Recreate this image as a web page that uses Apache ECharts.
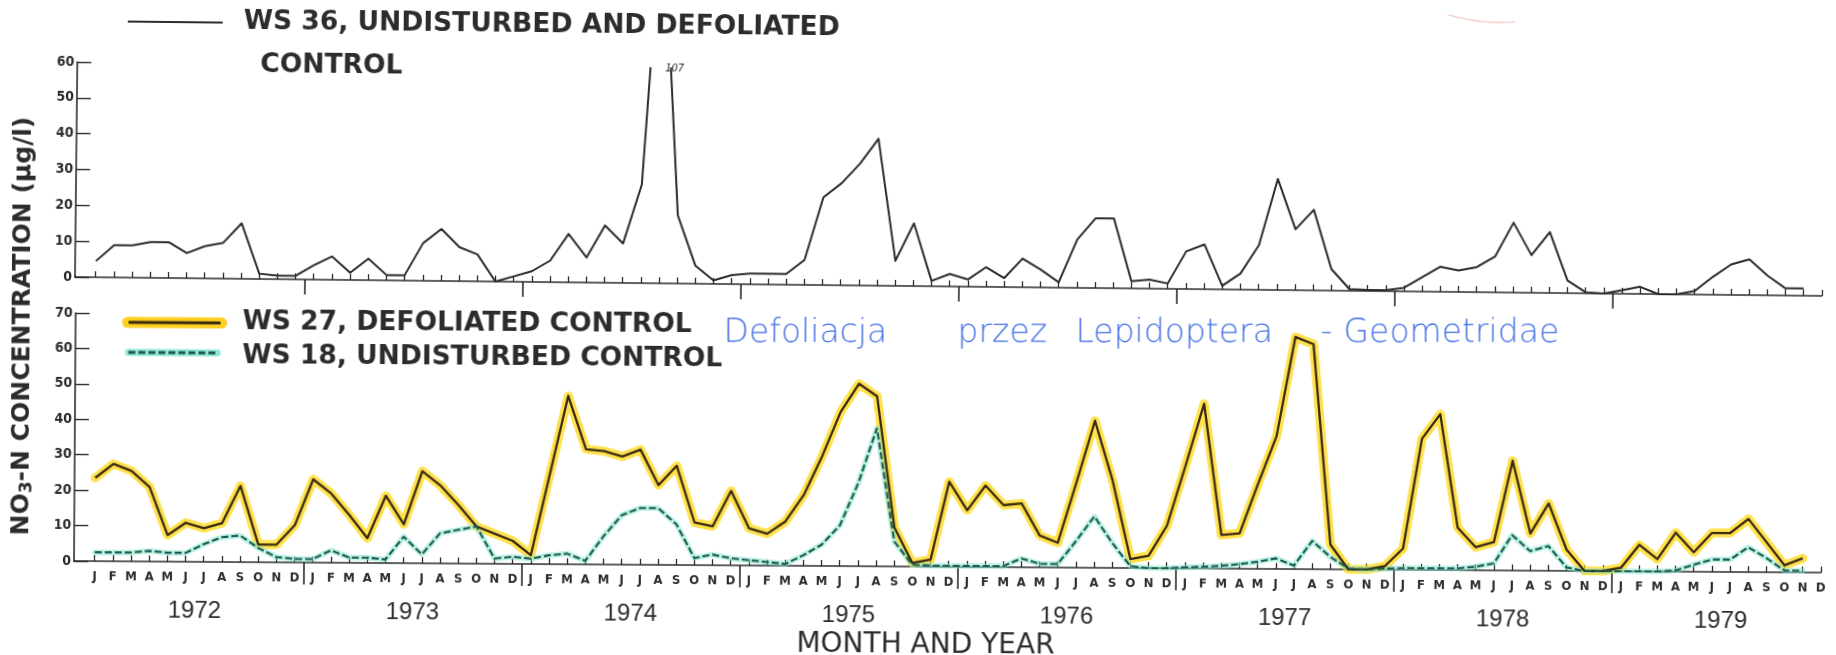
<!DOCTYPE html>
<html>
<head>
<meta charset="utf-8">
<title>NO3-N concentration, WS 36 / WS 27 / WS 18, 1972-1979</title>
<script src="https://cdn.jsdelivr.net/npm/echarts@6/dist/echarts.min.js"></script>
<style>
  html, body { margin: 0; padding: 0; background: #ffffff; }
  #page { position: relative; width: 1836px; height: 655px; overflow: hidden; background: #ffffff; }
  .panel { position: absolute; left: 0; top: 0; width: 1836px; height: 655px; }
  /* the printed sheet sits slightly skewed: each panel is turned about the foot of its y axis */
  #upper { transform: rotate(0.62deg); transform-origin: 75px 277px; }
  #lower { transform: rotate(0.38deg); transform-origin: 74px 561px; }
</style>
</head>
<body>
<div id="page">
  <div id="upper" class="panel"></div>
  <div id="lower" class="panel"></div>
</div>
<script>
// ---------------------------------------------------------------- data
const years = [1972, 1973, 1974, 1975, 1976, 1977, 1978, 1979];
const monthLetters = ['J', 'F', 'M', 'A', 'M', 'J', 'J', 'A', 'S', 'O', 'N', 'D'];

// NO3-N (µg/l), monthly Jan 1972 - Dec 1979 (no value plotted for Dec 1979)
const ws36 = [
  4.5, 9, 9, 10, 10, 7, 9, 10, 15.5, 1.5, 1, 1,
  4, 6.5, 2, 6, 1.5, 1.5, 10.5, 14.5, 9.5, 7.5, 0, 1.5,
  3, 6, 13.5, 7, 16, 11, 27.5, 107, 19, 5, 1, 2.5,
  3, 3, 3, 7, 24.5, 28.5, 34, 41, 7, 17.5, 1.5, 3.5,
  2, 5.5, 2.5, 8, 5, 1.5, 13.5, 19.5, 19.5, 2, 2.5, 1.5,
  10.5, 12.5, 1, 4.5, 12.5, 31, 17, 22.5, 6, 0.5, 0.3, 0.3,
  1, 4, 7, 6, 7, 10, 19.5, 10.5, 17, 3.5, 0.3, 0,
  1, 2, 0, 0, 1, 5, 8.5, 10, 5.5, 2, 2, null
];
const ws27 = [
  23.5, 27.5, 25.5, 21, 7.5, 11, 9.5, 11, 21.5, 5, 5, 10.5,
  23.5, 19.5, 13.5, 7, 19, 11, 26, 22, 16.5, 10.5, 8.5, 6.5,
  2.5, 25, 47.5, 32.5, 32, 30.5, 32.5, 22.5, 28, 12, 11, 21,
  10.5, 9, 12.5, 20, 31, 43.5, 51.5, 48, 11, 1, 2, 24,
  16, 23, 17.5, 18, 9, 7, 24, 41.5, 24.5, 2.5, 3.5, 12,
  29, 46.5, 9.5, 10, 24, 37.5, 65.5, 63.5, 7, 0, 0, 1,
  6, 37, 44, 12, 6.5, 8, 31, 10.5, 19, 6, 0, 0,
  1, 7.5, 3.5, 11, 5.5, 11, 11, 15, 8.5, 2, 4, null
];
const ws18 = [
  2.5, 2.5, 2.5, 3, 2.5, 2.5, 5, 7, 7.5, 4, 1.5, 1,
  1, 3.5, 1.5, 1.5, 1, 7.5, 2.5, 8.5, 9.5, 10.5, 1.5, 2,
  1.5, 2.5, 3, 1, 8, 14, 16, 16, 11.5, 2, 3, 2,
  1.5, 1, 0.5, 3, 6, 11.5, 23.5, 39, 7, 0.5, 0.3, 0.3,
  0.3, 0.3, 0.3, 2.5, 1, 1, 7.5, 14.5, 7, 0.5, 0, 0,
  0.3, 0.5, 0.8, 1.3, 2, 3, 1, 8, 3.5, 0.3, 0, 0.3,
  0.5, 0.5, 0.5, 0.5, 1, 2, 10, 5.5, 7, 1, 0, 0,
  0, 0, 0, 0.3, 2, 3.5, 3.5, 7, 4, 0.5, 0.5, null
];

const upperTicks = [0, 10, 20, 30, 40, 50, 60];
const lowerTicks = [0, 10, 20, 30, 40, 50, 60, 70];

// ---------------------------------------------------------------- styling / layout
const INK = '#2c2c2c';
const NARROW = "'Liberation Sans Narrow', 'DejaVu Sans Condensed', 'Liberation Sans', sans-serif";
const MONTH_PX = 18.17;      // horizontal room per month
const FIRST_GAP = 20.7;      // y axis to first month
const LAST = ws27.length - 1;

const monthIdx = ws27.map((_, i) => i);
const yearEdges = years.slice(1).map((_, k) => 12 * (k + 1) - 0.5);
const yearMids = years.map((_, k) => 12 * k + 5.5);
const pts = arr => arr.map((v, i) => [i, v]);

function xRange(left) {
  const min = -FIRST_GAP / MONTH_PX;
  return { left, min, max: LAST, width: (LAST - min) * MONTH_PX };
}
function helperX(r, extra) {
  return Object.assign({
    type: 'value', gridIndex: 0, position: 'bottom', offset: 0, min: r.min, max: r.max,
    splitLine: { show: false }, axisPointer: { show: false }
  }, extra);
}
function yAxisFor(ticks) {
  return {
    type: 'value', position: 'left', min: ticks[0], max: ticks[ticks.length - 1], interval: ticks[1] - ticks[0],
    axisLine: { show: true, onZero: false, lineStyle: { color: INK, width: 1.6 } },
    axisTick: { show: true, inside: true, length: 14, lineStyle: { color: INK, width: 1.4 } },
    axisLabel: { color: INK, fontFamily: NARROW, fontWeight: 'bold', fontSize: 14, margin: 3 },
    splitLine: { show: false }
  };
}
const legendFont = 'bold 26.5px "DejaVu Sans"';
const textBox = { align: 'left', verticalAlign: 'middle', textAlign: 'left', textVerticalAlign: 'middle' };

// ---------------------------------------------------------------- upper panel: WS 36
const upper = echarts.init(document.getElementById('upper'), null, { renderer: 'canvas', width: 1836, height: 655 });
const up = xRange(75);
const upperMax = upperTicks[upperTicks.length - 1];
const peakIdx = ws36.indexOf(Math.max(...ws36.filter(v => v != null)));

upper.setOption({
  animation: false,
  grid: { left: up.left, top: 62, width: up.width, height: 215, containLabel: false, outerBoundsMode: 'none' },
  xAxis: [
    helperX(up, {
      axisLine: { show: true, onZero: false, lineStyle: { color: INK, width: 1.6 } },
      axisTick: { show: true, inside: true, length: 6, customValues: monthIdx, lineStyle: { color: INK, width: 1.3 } },
      axisLabel: { show: false }
    }),
    helperX(up, {
      axisLine: { show: false, onZero: false },
      axisTick: { show: true, inside: false, length: 15, customValues: yearEdges, lineStyle: { color: INK, width: 1.6 } },
      axisLabel: { show: false }
    })
  ],
  yAxis: yAxisFor(upperTicks),
  series: [{
    name: 'WS 36, UNDISTURBED AND DEFOLIATED CONTROL',
    type: 'line', xAxisIndex: 0, data: pts(ws36),
    symbol: 'none', clip: true, z: 3,
    lineStyle: { color: INK, width: 2, join: 'round' },
    markPoint: {
      silent: true, symbol: 'circle', symbolSize: 0,
      data: [{ coord: [peakIdx, upperMax], value: ws36[peakIdx] }],
      label: {
        show: true, position: 'right', distance: 4, formatter: p => String(p.value),
        color: INK, fontFamily: NARROW, fontStyle: 'italic', fontSize: 11
      }
    }
  }],
  graphic: [
    { type: 'line', shape: { x1: 125, y1: 21, x2: 220, y2: 21 }, style: { stroke: INK, lineWidth: 2 } },
    { type: 'text', x: 241, y: 20,
      style: Object.assign({ text: 'WS 36, UNDISTURBED AND DEFOLIATED', font: legendFont, fill: INK }, textBox) },
    { type: 'text', x: 258, y: 63,
      style: Object.assign({ text: 'CONTROL', font: legendFont, fill: INK }, textBox) },
    { type: 'arc', silent: true,
      shape: { cx: 1497, cy: -184, r: 191, startAngle: 1.49, endAngle: 2.06, clockwise: true },
      style: { stroke: 'rgba(236,140,140,0.45)', fill: 'none', lineWidth: 1.4 } }
  ]
});

// ---------------------------------------------------------------- lower panel: WS 27 and WS 18
const lower = echarts.init(document.getElementById('lower'), null, { renderer: 'canvas', width: 1836, height: 655 });
const lo = xRange(74);

const WS27_INK = '#3a2a10';
const WS27_MARK = 'rgba(255,214,10,0.72)';
const WS18_INK = '#215a4a';
const WS18_MARK = 'rgba(125,228,208,0.55)';
const NOTE_INK = '#4671e6';
const note = { align: 'left', fontSize: 33, fontFamily: 'DejaVu Sans', fontWeight: 200, fill: NOTE_INK };

lower.setOption({
  animation: false,
  grid: { left: lo.left, top: 313, width: lo.width, height: 248, containLabel: false, outerBoundsMode: 'none' },
  xAxis: [
    helperX(lo, {
      axisLine: { show: true, onZero: false, lineStyle: { color: INK, width: 1.6 } },
      axisTick: { show: true, inside: true, length: 6, customValues: monthIdx, lineStyle: { color: INK, width: 1.3 } },
      axisLabel: {
        show: true, customValues: monthIdx, margin: 9,
        formatter: v => monthLetters[Math.round(v) % 12],
        color: INK, fontFamily: NARROW, fontWeight: 'bold', fontSize: 13
      }
    }),
    helperX(lo, {
      axisLine: { show: false, onZero: false },
      axisTick: { show: true, inside: false, length: 22, customValues: yearEdges, lineStyle: { color: INK, width: 1.6 } },
      axisLabel: { show: false }
    }),
    helperX(lo, {
      axisLine: { show: false, onZero: false }, axisTick: { show: false },
      axisLabel: {
        show: true, customValues: yearMids, margin: 37,
        formatter: v => String(years[Math.round((v - 5.5) / 12)]),
        color: INK, fontFamily: 'Liberation Sans', fontSize: 24
      }
    })
  ],
  yAxis: yAxisFor(lowerTicks),
  series: [
    { name: 'WS 27 marker', type: 'line', data: pts(ws27), symbol: 'none', silent: true, z: 1,
      lineStyle: { color: WS27_MARK, width: 9, cap: 'round', join: 'round' } },
    { name: 'WS 18 marker', type: 'line', data: pts(ws18), symbol: 'none', silent: true, z: 1,
      lineStyle: { color: WS18_MARK, width: 5.5, cap: 'round', join: 'round' } },
    { name: 'WS 27, DEFOLIATED CONTROL', type: 'line', data: pts(ws27), symbol: 'none', z: 3,
      lineStyle: { color: WS27_INK, width: 2.3, join: 'round' } },
    { name: 'WS 18, UNDISTURBED CONTROL', type: 'line', data: pts(ws18), symbol: 'none', z: 4,
      lineStyle: { color: WS18_INK, width: 2.1, type: [7, 3] } }
  ],
  graphic: [
    // legend keys
    { type: 'line', shape: { x1: 126, y1: 322, x2: 220, y2: 322 }, style: { stroke: '#ffcf1f', lineWidth: 11, lineCap: 'round' } },
    { type: 'line', shape: { x1: 127, y1: 322, x2: 219, y2: 322 }, style: { stroke: WS27_INK, lineWidth: 3 } },
    { type: 'text', x: 241, y: 321,
      style: Object.assign({ text: 'WS 27, DEFOLIATED CONTROL', font: legendFont, fill: INK }, textBox) },
    { type: 'line', shape: { x1: 127, y1: 352, x2: 216, y2: 352 }, style: { stroke: 'rgba(125,228,208,0.85)', lineWidth: 7, lineCap: 'round' } },
    { type: 'line', shape: { x1: 127, y1: 352, x2: 216, y2: 352 }, style: { stroke: WS18_INK, lineWidth: 3, lineDash: [7, 3] } },
    { type: 'text', x: 241, y: 355,
      style: Object.assign({ text: 'WS 18, UNDISTURBED CONTROL', font: legendFont, fill: INK }, textBox) },
    // handwritten note
    { type: 'text', x: 722, y: 329, rotation: 0.38 * Math.PI / 180,
      style: Object.assign({
        text: '{a|Defoliacja }{b|przez }{c|Lepidoptera }{d|- }{e|Geometridae}',
        rich: {
          a: Object.assign({ width: 234 }, note),
          b: Object.assign({ width: 118 }, note),
          c: Object.assign({ width: 245 }, note),
          d: Object.assign({ width: 23 }, note),
          e: Object.assign({}, note)
        }
      }, textBox) },
    // y axis title
    { type: 'text', x: 21.4, y: 326.3, rotation: Math.PI / 2,
      style: {
        text: '{a|NO}{s|3}{a|-N CONCENTRATION (µg/l)}',
        align: 'center', verticalAlign: 'middle', textAlign: 'center', textVerticalAlign: 'middle',
        rich: {
          a: { fontSize: 25, fontWeight: 'bold', fontFamily: 'DejaVu Sans', fill: INK, lineHeight: 28 },
          s: { fontSize: 17, fontWeight: 'bold', fontFamily: 'DejaVu Sans', fill: INK, lineHeight: 10, verticalAlign: 'bottom' }
        }
      } },
    // x axis title
    { type: 'text', x: 926, y: 640,
      style: { text: 'MONTH AND YEAR', font: '28px "DejaVu Sans"', fill: INK,
               align: 'center', verticalAlign: 'middle', textAlign: 'center', textVerticalAlign: 'middle' } }
  ]
});
</script>
</body>
</html>
